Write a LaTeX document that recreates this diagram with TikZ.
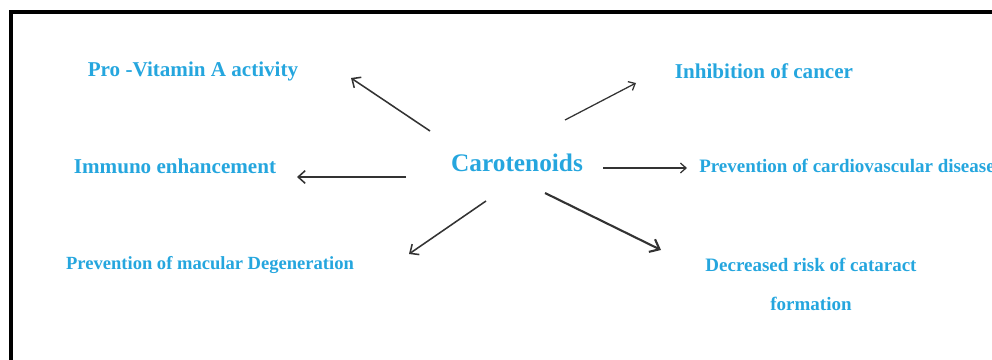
\documentclass[tikz,border=0pt]{standalone}
\usepackage{fontspec}
\setmainfont{Liberation Serif}
\usepackage{xcolor}
\usepackage{tikz}
\usetikzlibrary{arrows.meta, positioning, calc}
\definecolor{labelblue}{HTML}{25A6DE}
\definecolor{arrowgrey}{HTML}{333333}

\begin{document}
\begin{tikzpicture}[
  x=0.025cm, y=-0.025cm,
  effect/.style={text=labelblue, inner sep=0pt, font=\fontsize{15}{18}\selectfont\bfseries},
  smalleffect/.style={text=labelblue, inner sep=0pt, align=center,
                      font=\fontsize{13.5}{27.7}\selectfont\bfseries},
  centre/.style={text=labelblue, inner sep=0pt, font=\fontsize{18}{22}\selectfont\bfseries},
  arr/.style={-{Straight Barb[length=5pt, width=9pt]}, line width=1.1pt, arrowgrey},
  thinarr/.style={-{Straight Barb[length=4pt, width=7pt]}, line width=0.9pt, arrowgrey},
  thickarr/.style={-{Straight Barb[length=6pt, width=10pt]}, line width=1.5pt, arrowgrey},
]

%% ── Page and frame ───────────────────────────────────────────────────────────
\useasboundingbox (0,0) rectangle (992,360);
\clip (0,0) rectangle (992,360);
\draw[line width=2.8pt] (11,12) rectangle (1020,400);

%% ── Centre ───────────────────────────────────────────────────────────────────
\node[centre] (caro) at (517,163) {Carotenoids};

%% ── Left column ──────────────────────────────────────────────────────────────
\node[effect] (pva) at (193,71)  {Pro -Vitamin A activity};
\node[effect] (imm) at (175,166) {Immuno enhancement};
\node[smalleffect, font=\fontsize{13.2}{16}\selectfont\bfseries]
              (mac) at (210,265) {Prevention of macular Degeneration};

%% ── Right column ─────────────────────────────────────────────────────────────
\node[effect]      (inh) at (764,71)  {Inhibition of cancer};
\node[smalleffect] (cvd) at (847,166) {Prevention of cardiovascular disease};
\node[smalleffect] (cat) at (811,284) {Decreased risk of cataract\\formation};

%% ── Arrows ───────────────────────────────────────────────────────────────────
\draw[arr]      ([shift={(-87,-32)}]caro.center) -- ([shift={(158,7)}]pva.center);
\draw[thinarr]  ([shift={(48,-43)}]caro.center)  -- ([shift={(-128,12)}]inh.center);
\draw[arr]      ([shift={(-111,14)}]caro.center) -- ([shift={(122,11)}]imm.center);
\draw[thinarr]  ([shift={(86,5)}]caro.center)    -- ([shift={(-160,2)}]cvd.center);
\draw[arr]      ([shift={(-31,38)}]caro.center)  -- ([shift={(199,-11)}]mac.center);
\draw[thickarr] ([shift={(28,30)}]caro.center)   -- ([shift={(-150,-34)}]cat.center);

\end{tikzpicture}
\end{document}
